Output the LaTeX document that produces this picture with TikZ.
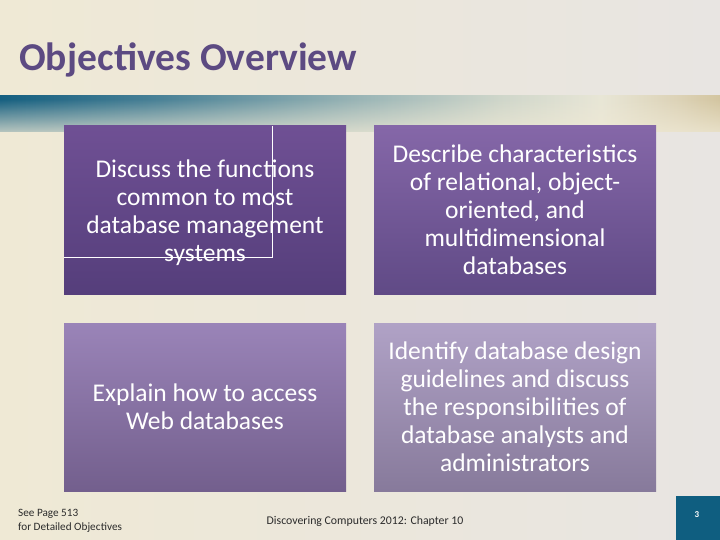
\documentclass[tikz,border=0pt]{standalone}
\usepackage{fontspec}
\setmainfont{Carlito}
\usetikzlibrary{fadings}
\newcommand\nolig{\kern0.7pt}
\definecolor{bgleft}{HTML}{EFE9D5}
\definecolor{bgright}{HTML}{E8E5E2}
\definecolor{titlec}{HTML}{5C4A82}
\definecolor{bandA}{HTML}{155F80}
\definecolor{bandB}{HTML}{467F95}
\definecolor{bandC}{HTML}{9AB5B6}
\definecolor{bandD}{HTML}{CFD6CA}
\definecolor{bandE}{HTML}{E8E6D6}
\definecolor{bandF}{HTML}{DCD2B6}
\definecolor{bandG}{HTML}{D3C5A0}
\definecolor{boxAt}{HTML}{6F5094}
\definecolor{boxAb}{HTML}{553E7B}
\definecolor{boxBt}{HTML}{8567A8}
\definecolor{boxBb}{HTML}{604A86}
\definecolor{boxCt}{HTML}{9A84B8}
\definecolor{boxCb}{HTML}{735F8D}
\definecolor{boxDt}{HTML}{B0A2C6}
\definecolor{boxDb}{HTML}{877A9B}
\definecolor{pagec}{HTML}{0F5E80}
\definecolor{footc}{HTML}{2B2B2B}
\pgfdeclarehorizontalshading{bandshade}{100bp}{color(0bp)=(bandA); color(25bp)=(bandA); color(35.4bp)=(bandB); color(50bp)=(bandC); color(59.7bp)=(bandD); color(66.7bp)=(bandE); color(72.2bp)=(bandF); color(75bp)=(bandG); color(100bp)=(bandG)}
\tikzfading[name=fadedown, top color=transparent!100, bottom color=transparent!0]
\begin{document}
\begin{tikzpicture}[x=1pt,y=-1pt,
  objbox/.style={minimum width=282pt, minimum height=168pt, inner sep=0pt, text=white,
    align=center, font=\fontsize{25.5}{28}\selectfont},
  foot/.style={text=footc, inner sep=0pt}]
\useasboundingbox (0,0) rectangle (720,540);
\shade[left color=bgleft, right color=bgright] (0,0) rectangle (720,540);
% swoosh band
\shade[shading=bandshade] (0,96) rectangle (720,132);
\fill[bgleft, fill opacity=0.75, path fading=fadedown] (0,99) rectangle (720,132);
% title
\node[anchor=base west, inner sep=0pt, text=titlec, font=\fontsize{39.5}{42}\bfseries] (title) at (19,71) {Objec\nolig tives Overview};
% boxes
\node[objbox, top color=boxAt, bottom color=boxAb] (b1) at (205,210) {\rule{0pt}{23pt}Discuss the func\nolig tions\\common to most\\database management\\systems};
\node[objbox, top color=boxBt, bottom color=boxBb] (b2) at (515,210) {Describe characteris\nolig tics\\of rela\nolig tional, object-\\oriented, and\\mul\nolig tidimensional\\databases};
\node[objbox, top color=boxCt, bottom color=boxCb] (b3) at (205,407) {Explain how to access\\Web databases};
\node[objbox, top color=boxDt, bottom color=boxDb] (b4) at (515,407) {Iden\nolig tify database design\\guidelines and discuss\\the responsibili\nolig ties of\\database analysts and\\administrators};
% white frame lines in box 1
\coordinate (ftop) at (272,126);
\coordinate (fcorner) at (272,257);
\coordinate (fleft) at (64,257);
\draw[white, line width=0.9pt] (ftop) -- (fcorner) -- (fleft);
% footer
\node[foot, anchor=west, align=left, font=\fontsize{11.2}{14}\selectfont] (see) at (18,521) {See Page 513\\for Detailed Objec\kern0.3pt tives};
\node[foot, font=\fontsize{11.8}{14}\selectfont] (chap) at (365,521) {Discovering Computers 2012: Chapter 10};
\node[fill=pagec, minimum width=44pt, minimum height=44pt, inner sep=0pt] (pagebox) at (698,518) {};
\node[text=white, inner sep=0pt, font=\fontsize{9}{11}\bfseries] (pnum) at (697,515) {3};
\end{tikzpicture}
\end{document}
